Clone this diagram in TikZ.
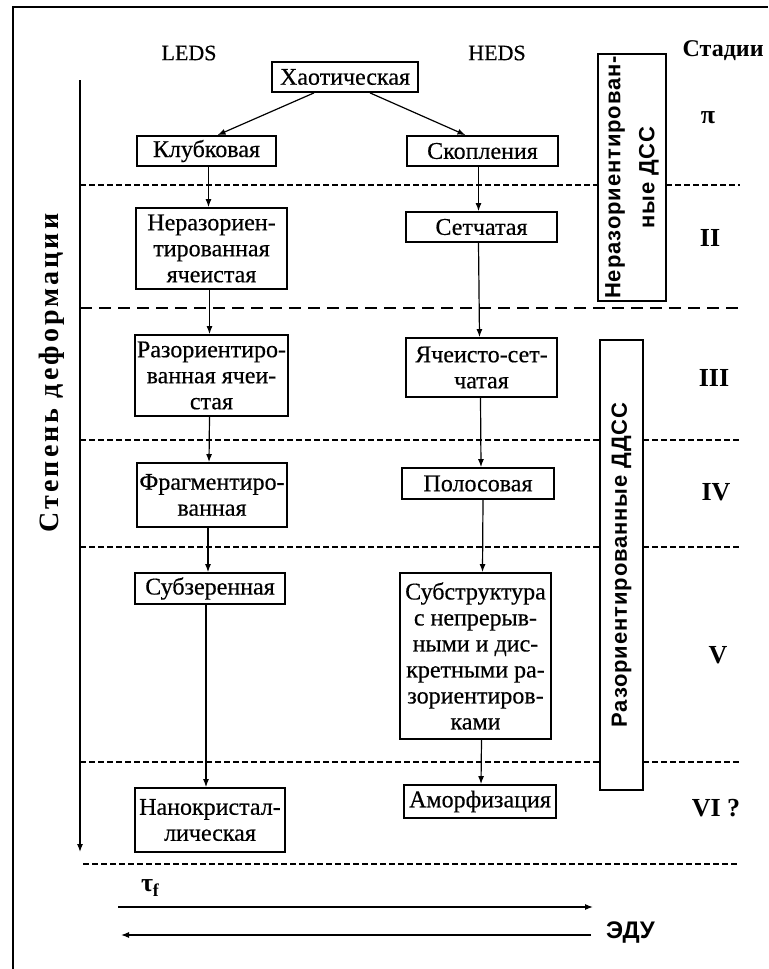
\documentclass[tikz,border=0pt]{standalone}
\usepackage{fontspec}
\setmainfont{Liberation Serif}
\newfontfamily\boxf{Liberation Serif}[FakeBold=0.4]
\newfontfamily\rotf{Liberation Sans}[LetterSpace=4]
\newfontfamily\axisf{Liberation Serif}[LetterSpace=11]
\newfontfamily\edusans{Liberation Sans}
\usetikzlibrary{arrows.meta,calc}
\begin{document}
\begin{tikzpicture}[x=0.5pt,y=-0.5pt,
  bx/.style={draw, line width=0.9pt, inner sep=1pt, align=center,
    font=\boxf\fontsize{12}{13}\selectfont},
  arr/.style={line width=0.6pt, -{Latex[length=4pt,width=3pt]}},
  stg/.style={font=\bfseries\fontsize{13}{15}\selectfont},
  hdr/.style={font=\boxf\fontsize{11}{13}\selectfont},
  rbox/.style={draw, line width=0.9pt, rotate=90, align=center, inner sep=1pt},
  dfine/.style={line width=0.8pt, dash pattern=on 3pt off 1.5pt},
  dthick/.style={line width=1.3pt, dash pattern=on 6pt off 3.5pt},
]
\useasboundingbox (0,0) rectangle (768,969);
\fill[white] (0,0) rectangle (768,969);
% frame (top and left)
\draw[line width=1.2pt] (13,969) -- (13,7) -- (768,7);

% headers
\node[hdr] (leds) at (189,53) {LEDS};
\node[hdr] (heds) at (497,53) {HEDS};
\node[font=\bfseries\fontsize{12}{14}\selectfont, anchor=east, inner sep=1pt] (stad) at (766,51) {Стадии};

% axis
\coordinate (axtop) at (80,80);
\coordinate (axbot) at (80,852);
\draw[arr] (axtop) -- (axbot);
\node[rotate=90, font=\axisf\bfseries\fontsize{14}{16}\selectfont] (axl) at (52,373) {Степень деформации};

% dashed stage separators
\draw[dfine] (80,185) -- (598,185);  \draw[dfine] (666,185) -- (740,185);
\draw[dthick] (80,308) -- (740,308);
\draw[dfine] (80,440) -- (600,440);  \draw[dfine] (643,440) -- (740,440);
\draw[dfine] (80,547) -- (600,547);  \draw[dfine] (643,547) -- (740,547);
\draw[dfine] (80,762) -- (600,762);  \draw[dfine] (643,762) -- (740,762);
\draw[dfine] (83,864) -- (740,864);

% boxes
\node[bx, minimum width=73pt, minimum height=15pt] (haot) at (345,77) {Хаотическая};
\node[bx, minimum width=69.5pt, minimum height=15pt] (klub) at (206.5,151) {Клубковая};
\node[bx, minimum width=75.5pt, minimum height=15pt] (skop) at (482.5,151) {Скопления};
\node[bx, minimum width=75.5pt, minimum height=40.5pt] (neraz) at (211.5,248.5) {Неразориен-\\тированная\\ячеистая};
\node[bx, minimum width=75.5pt, minimum height=15pt] (setch) at (481.5,227) {Сетчатая};
\node[bx, minimum width=75.5pt, minimum height=40.5pt] (raz) at (211.5,375.5) {Разориентиро-\\ванная ячеи-\\стая};
\node[bx, minimum width=75.5pt, minimum height=29.5pt] (yach) at (481.5,367.5) {Ячеисто-сет-\\чатая};
\node[bx, minimum width=75pt, minimum height=32pt] (frag) at (212,495) {Фрагментиро-\\ванная};
\node[bx, minimum width=76pt, minimum height=15.5pt] (polos) at (478,483.5) {Полосовая};
\node[bx, minimum width=75pt, minimum height=15.5pt] (subz) at (210,588.5) {Субзеренная};
\node[bx, minimum width=75.5pt, minimum height=83pt] (subst) at (475.5,656) {Субструктура\\с непрерыв-\\ными и дис-\\кретными ра-\\зориентиров-\\ками};
\node[bx, minimum width=75pt, minimum height=32pt] (nano) at (210,820) {Нанокристал-\\лическая};
\node[bx, minimum width=76pt, minimum height=16.5pt] (amorf) at (480,801.5) {Аморфизация};

% right rotated boxes
\node[rbox, minimum width=120.5pt, minimum height=34pt,
  font=\rotf\bfseries\fontsize{11}{17}\selectfont] (ndss) at (632,177.5) {Неразориентирован-\\ные ДСС};
\node[rbox, minimum width=225pt, minimum height=21.5pt,
  font=\rotf\bfseries\fontsize{11}{13}\selectfont] (rdss) at (621.5,565) {Разориентированные ДДСС};

% stages
\node[stg] (st1) at (708,118) {π};
\node[stg] (st2) at (710,238) {II};
\node[stg] (st3) at (714,378) {III};
\node[stg] (st4) at (716,492) {IV};
\node[stg] (st5) at (718,655) {V};
\node[stg] (st6) at (716,808) {VI ?};

% connectors
\draw[arr] ($(haot.south)+(-31,0)$) -- ($(klub.north)+(11,0)$);
\draw[arr] ($(haot.south)+(25,0)$) -- ($(skop.north)+(-17,0)$);
\draw[arr] ($(klub.south)+(2,0)$) -- ($(neraz.north)+(-3,0)$);
\draw[arr] ($(neraz.south)+(-2,0)$) -- ($(raz.north)+(-2,0)$);
\draw[arr] ($(raz.south)+(-2,0)$) -- ($(frag.north)+(-3,0)$);
\draw[arr] ($(frag.south)+(-4,0)$) -- ($(subz.north)+(-2,0)$);
\draw[arr] ($(subz.south)+(-4,0)$) -- ($(nano.north)+(-4,0)$);
\draw[arr] ($(skop.south)+(-4,0)$) -- ($(setch.north)+(-3,0)$);
\draw[arr] ($(setch.south)+(-3,0)$) -- ($(yach.north)+(-2,0)$);
\draw[arr] ($(yach.south)+(-1,0)$) -- ($(polos.north)+(3,0)$);
\draw[arr] ($(polos.south)+(5,0)$) -- ($(subst.north)+(7,0)$);
\draw[arr] ($(subst.south)+(6,0)$) -- ($(amorf.north)+(1,0)$);

% bottom arrows
\coordinate (t1) at (118,907);
\coordinate (t2) at (593,907);
\coordinate (e1) at (591,935);
\coordinate (e2) at (121,935);
\draw[arr] (t1) -- (t2);
\draw[arr] (e1) -- (e2);
\node[font=\bfseries\fontsize{13}{15}\selectfont] (tau) at (150,888) {τ\raisebox{-0.35ex}{\fontsize{9}{10}\selectfont f}};
\node[font=\edusans\bfseries\fontsize{12}{14}\selectfont, anchor=west] (edu) at (599,932) {ЭДУ};
\end{tikzpicture}
\end{document}
